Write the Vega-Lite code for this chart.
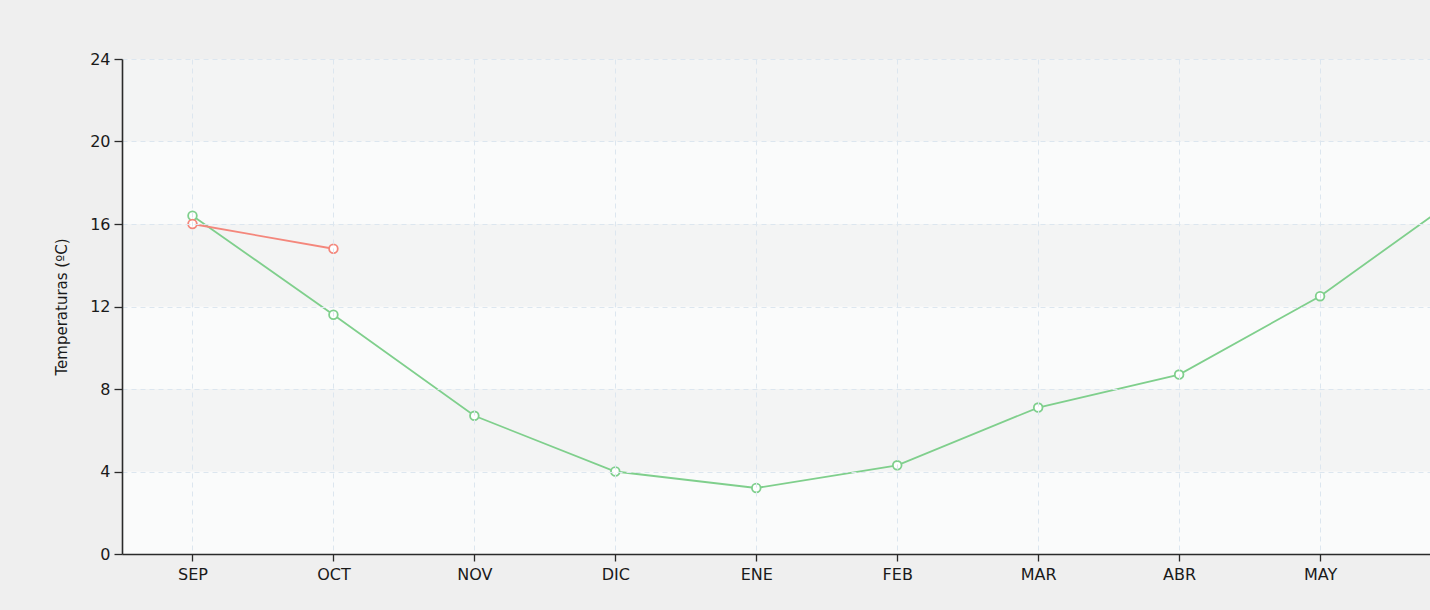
{
  "$schema": "https://vega.github.io/schema/vega-lite/v6.json",
  "autosize": {"type": "none"},
  "padding": {"left": 122, "top": 59, "right": 0, "bottom": 56},
  "width": 1308,
  "height": 495,
  "background": "#efefef",
  "config": {
    "view": {"fill": "#fbfbfb", "stroke": null},
    "font": "DejaVu Sans",
    "axis": {
      "labelFont": "DejaVu Sans",
      "labelFontSize": 16,
      "labelColor": "#1a1a1a",
      "domainColor": "#2a2a2a",
      "domainWidth": 1.6,
      "tickColor": "#2a2a2a",
      "tickWidth": 1.3,
      "tickSize": 8,
      "grid": true,
      "gridColor": "#dce6ef",
      "gridDash": [5, 4],
      "gridWidth": 1,
      "titleFont": "DejaVu Sans",
      "titleFontWeight": "normal",
      "titleFontSize": 15,
      "titleColor": "#1a1a1a"
    }
  },
  "datasets": {
    "temps": [
      {"mes": "SEP", "i": 0, "serie": "B", "t": 16.4},
      {"mes": "OCT", "i": 1, "serie": "B", "t": 11.6},
      {"mes": "NOV", "i": 2, "serie": "B", "t": 6.7},
      {"mes": "DIC", "i": 3, "serie": "B", "t": 4.0},
      {"mes": "ENE", "i": 4, "serie": "B", "t": 3.2},
      {"mes": "FEB", "i": 5, "serie": "B", "t": 4.3},
      {"mes": "MAR", "i": 6, "serie": "B", "t": 7.1},
      {"mes": "ABR", "i": 7, "serie": "B", "t": 8.7},
      {"mes": "MAY", "i": 8, "serie": "B", "t": 12.5},
      {"mes": "JUN", "i": 9, "serie": "B", "t": 17.4},
      {"mes": "SEP", "i": 0, "serie": "A", "t": 16.0},
      {"mes": "OCT", "i": 1, "serie": "A", "t": 14.8}
    ],
    "bands": [
      {"y0": 0, "y1": 4, "k": "plain"},
      {"y0": 4, "y1": 8, "k": "hatch"},
      {"y0": 8, "y1": 12, "k": "plain"},
      {"y0": 12, "y1": 16, "k": "hatch"},
      {"y0": 16, "y1": 20, "k": "plain"},
      {"y0": 20, "y1": 24, "k": "hatch"}
    ]
  },
  "layer": [
    {
      "data": {"name": "bands"},
      "mark": {"type": "rect"},
      "encoding": {
        "x": {"datum": -0.5, "type": "quantitative", "scale": {"domain": [-0.5, 8.78], "nice": false, "zero": false}},
        "x2": {"datum": 8.78},
        "y": {"field": "y0", "type": "quantitative"},
        "y2": {"field": "y1"},
        "fill": {"field": "k", "type": "nominal", "scale": {"domain": ["plain", "hatch"], "range": ["#fafbfb", "#f3f4f4"]}, "legend": null}
      }
    },
    {
      "data": {"name": "temps"},
      "mark": {"type": "line", "clip": true, "strokeWidth": 1.8},
      "encoding": {
        "x": {
          "field": "i", "type": "quantitative",
          "scale": {"domain": [-0.5, 8.78], "nice": false, "zero": false},
          "axis": {
            "title": null,
            "zindex": 1,
            "grid": true,
            "values": [0, 1, 2, 3, 4, 5, 6, 7, 8],
            "labelExpr": "['SEP','OCT','NOV','DIC','ENE','FEB','MAR','ABR','MAY','JUN'][datum.value]",
            "labelPadding": 5,
            "tickSize": 7
          }
        },
        "y": {
          "field": "t", "type": "quantitative",
          "scale": {"domain": [0, 24], "nice": false},
          "axis": {"title": "Temperaturas (ºC)", "zindex": 1, "grid": true, "values": [0, 4, 8, 12, 16, 20, 24], "titlePadding": 20, "labelPadding": 4}
        },
        "stroke": {"field": "serie", "type": "nominal", "scale": {"domain": ["A", "B"], "range": ["#f4877c", "#7fcf8c"]}, "legend": null}
      }
    },
    {
      "data": {"name": "temps"},
      "mark": {"type": "point", "clip": true, "filled": false, "fill": "white", "fillOpacity": 1, "size": 75, "strokeWidth": 1.8},
      "encoding": {
        "x": {"field": "i", "type": "quantitative"},
        "y": {"field": "t", "type": "quantitative"},
        "stroke": {"field": "serie", "type": "nominal", "legend": null}
      }
    }
  ]
}
